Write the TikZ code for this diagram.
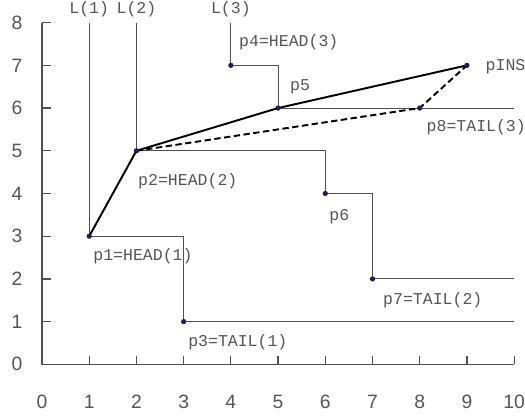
\documentclass[tikz,border=0pt]{standalone}
\usepackage{fontspec}
\setmainfont{Liberation Sans}
\newfontfamily\monofont{Liberation Mono}
\definecolor{txtgray}{RGB}{85,85,85}
\definecolor{linegray}{RGB}{80,80,80}
\definecolor{dotblue}{RGB}{30,30,80}
\begin{document}
\begin{tikzpicture}[x=0.944cm,y=0.854cm,
    lbl/.style={anchor=west,inner sep=0pt,text=txtgray,font=\monofont\fontsize{9.4}{11}\selectfont},
    num/.style={inner sep=0pt,text=txtgray,font=\fontsize{11}{13}\selectfont},
    stair/.style={draw=linegray,line width=0.6pt},
    route/.style={draw=black,line width=1.1pt,line join=round}]
    \useasboundingbox (-0.89,-1.258) rectangle (10.23,8.53);
    % axes
    \draw[linegray,line width=0.8pt] (0,8) -- (0,0) -- (10,0);
    % ticks and numbers on the y axis
    \foreach \y in {0,...,8}{
    \draw[linegray,line width=0.7pt] (0,\y) -- (0.18,\y);
    \node[num] (ny\y) at (-0.53,\y) {\y};}
    % ticks and numbers on the x axis
    \foreach \x in {0,...,10}{
    \draw[linegray,line width=0.7pt] (\x,0) -- (\x,0.19);
    \node[num] (nx\x) at (\x,-0.876) {\x};}

    % points
    \coordinate (p1) at (1,3);
    \coordinate (p2) at (2,5);
    \coordinate (p3) at (3,1);
    \coordinate (p4) at (4,7);
    \coordinate (p5) at (5,6);
    \coordinate (p6) at (6,4);
    \coordinate (p7) at (7,2);
    \coordinate (p8) at (8,6);
    \coordinate (pINS) at (9,7);
    % ends of the lists
    \coordinate (top1) at (1,8);
    \coordinate (top2) at (2,8);
    \coordinate (top3) at (4,8);
    \coordinate (end1) at (10,1);
    \coordinate (end2) at (10,2);
    \coordinate (end3) at (10,6);

    % the three lists
    \draw[stair] (top1) -- (p1) -| (p3) -- (end1);
    \draw[stair] (top2) -- (p2) -| (p6) -| (p7) -- (end2);
    \draw[stair] (top3) -- (p4) -| (p5) -- (end3);

    % new path and inserted point
    \draw[route] (p1) -- (p2) -- (p5) -- (pINS);
    \draw[route,dash pattern=on 3.6pt off 2pt] (p2) -- (p8) -- (pINS);

    % dots
    \foreach \p in {p1,p2,p3,p4,p5,p6,p7,p8,pINS}
    \fill[dotblue] (\p) circle (1.5pt);

    % list names
    \node[lbl,anchor=center] (L1) at (1,8.32) {L(1)};
    \node[lbl,anchor=center] (L2) at (2,8.32) {L(2)};
    \node[lbl,anchor=center] (L3) at (4,8.32) {L(3)};

    % point labels
    \node[lbl] (lp1) at (1.08,2.52) {p1=HEAD(1)};
    \node[lbl] (lp2) at (2.03,4.29) {p2=HEAD(2)};
    \node[lbl] (lp3) at (3.09,0.52) {p3=TAIL(1)};
    \node[lbl] (lp4) at (4.17,7.55) {p4=HEAD(3)};
    \node[lbl] (lp5) at (5.25,6.49) {p5};
    \node[lbl] (lp6) at (6.08,3.45) {p6};
    \node[lbl] (lp7) at (7.22,1.51) {p7=TAIL(2)};
    \node[lbl] (lp8) at (8.14,5.54) {p8=TAIL(3)};
    \node[lbl] (lpINS) at (9.39,6.96) {pINS};
\end{tikzpicture}
\end{document}
